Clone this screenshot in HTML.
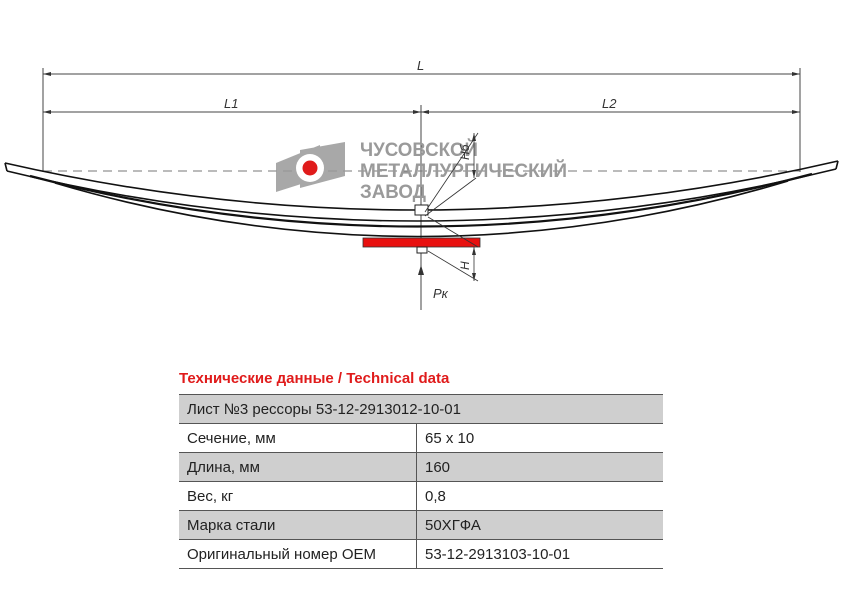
<!DOCTYPE html>
<html><head><meta charset="utf-8"><style>
body{margin:0;background:#fff;width:842px;height:595px;overflow:hidden;font-family:"Liberation Sans","DejaVu Sans",sans-serif}
.t{position:absolute;left:179px;top:394px;width:484px;border-collapse:collapse;font-size:15px;color:#222}
.t td{height:28px;padding:0 0 0 8px;border-bottom:1px solid #555}
.t tr.g td{background:#cfcfcf}
.t td.c{border-left:1px solid #555}
</style></head><body>
<svg width="842" height="380" style="position:absolute;left:0;top:0" font-family="Liberation Sans, sans-serif">
<g stroke="#444" stroke-width="1" fill="none">
<line x1="43" y1="68" x2="43" y2="172"/><line x1="800" y1="68" x2="800" y2="172"/>
<line x1="421" y1="105" x2="421" y2="310"/>
<line x1="43" y1="74" x2="800" y2="74"/><line x1="43" y1="112" x2="800" y2="112"/>
<line x1="43" y1="171" x2="800" y2="171" stroke-dasharray="9,6" stroke="#777"/>
</g>
<g fill="#333"><path d="M43,74 l8,-2 v4z M800,74 l-8,-2 v4z M43,112 l8,-2 v4z M800,112 l-8,-2 v4z M421,112 l-8,-2 v4z M421,112 l8,-2 v4z"/></g>
<text x="417" y="70" font-size="13" font-style="italic" fill="#333">L</text>
<text x="224" y="108" font-size="13" font-style="italic" fill="#333">L1</text>
<text x="602" y="108" font-size="13" font-style="italic" fill="#333">L2</text>
<!-- logo -->
<path d="M276,163 L320,145 L320,178 L276,192Z M300,150 L345,142 L345,176 L300,188Z" fill="#999" opacity="0.85"/>
<circle cx="310" cy="168" r="14" fill="#fff"/><circle cx="310" cy="168" r="7.5" fill="#e01b1b"/>
<g font-size="19" fill="#9a9a9a" font-weight="bold"><text x="360" y="156" textLength="118" lengthAdjust="spacingAndGlyphs">ЧУСОВСКОЙ</text><text x="360" y="177" textLength="207" lengthAdjust="spacingAndGlyphs">МЕТАЛЛУРГИЧЕСКИЙ</text><text x="360" y="198" textLength="66" lengthAdjust="spacingAndGlyphs">ЗАВОД</text></g>
<!-- spring -->
<g stroke="#111" stroke-width="1.6" fill="none">
<path d="M5,163 Q421,258 838,161"/><path d="M7,171 Q421,272 836,169"/>
<path d="M5,163 L7,171 M838,161 L836,169"/>
<path d="M30,176 Q421,278 812,174" stroke-width="2.2"/>
<path d="M55,183 Q421,291 788,181"/>
</g>
<rect x="363" y="238" width="117" height="9" fill="#e8100f" stroke="#333" stroke-width="0.8"/>
<g stroke="#222" stroke-width="1" fill="#fff"><rect x="415" y="205" width="13" height="10"/><rect x="417" y="247" width="10" height="6"/></g>
<g stroke="#333" stroke-width="0.8" fill="none">
<line x1="425" y1="212" x2="478" y2="133"/><line x1="425" y1="216" x2="476" y2="178"/>
<line x1="474" y1="133" x2="474" y2="178"/>
<line x1="428" y1="217" x2="478" y2="247"/><line x1="428" y1="251" x2="478" y2="281"/>
<line x1="474" y1="247" x2="474" y2="281"/>
</g>
<g fill="#333"><path d="M474,133 l-2,8 h4z M474,178 l-2,-8 h4z M474,247 l-2,8 h4z M474,281 l-2,-8 h4z M421,265 l-3,10 h6z"/></g>
<text x="469" y="160" font-size="12" font-style="italic" fill="#333" transform="rotate(-90 469 160)">Hб</text>
<text x="469" y="270" font-size="12" font-style="italic" fill="#333" transform="rotate(-90 469 270)">H</text>
<text x="433" y="298" font-size="13" font-style="italic" fill="#333">Pк</text>
</svg>
<div style="position:absolute;left:179px;top:370px;font-size:15px;font-weight:bold;color:#e01b1b">Технические данные / Technical data</div>
<table class="t">
<tr class="g"><td colspan="2" style="border-top:1px solid #555">Лист №3 рессоры 53-12-2913012-10-01</td></tr>
<tr><td style="width:229px">Сечение, мм</td><td class="c">65 x 10</td></tr>
<tr class="g"><td>Длина, мм</td><td class="c">160</td></tr>
<tr><td>Вес, кг</td><td class="c">0,8</td></tr>
<tr class="g"><td>Марка стали</td><td class="c">50ХГФА</td></tr>
<tr><td>Оригинальный номер OEM</td><td class="c">53-12-2913103-10-01</td></tr>
</table>
</body></html>
